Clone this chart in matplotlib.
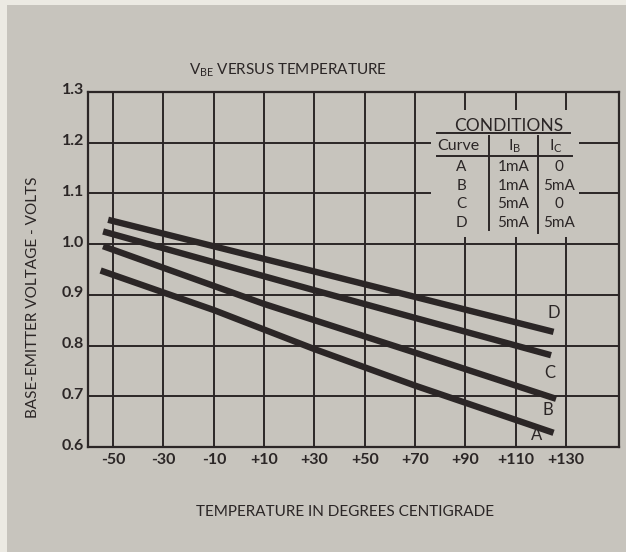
#!/usr/bin/env python3
# -*- coding: utf-8 -*-
"""
V_BE x temperatura para quatro condicoes de polarizacao (curvas A-D),
com a tabela de condicoes desenhada dentro da grade.
"""
import matplotlib
matplotlib.use("Agg")
import matplotlib.pyplot as plt
from matplotlib.patches import Rectangle
from matplotlib.transforms import ScaledTranslation

# --- dados (graus C, volts) -------------------------------------------------
temp_a = [-55, -10, 30, 70, 125]
vbe_a  = [0.948, 0.870, 0.793, 0.721, 0.628]

temp_b = [-54, 10, 70, 126]
vbe_b  = [0.996, 0.882, 0.786, 0.695]

temp_c = [-54, 30, 124]
vbe_c  = [1.025, 0.909, 0.781]

temp_d = [-52, 30, 125]
vbe_d  = [1.048, 0.946, 0.827]

curve_names = ["A", "B", "C", "D"]
ib_values   = ["1mA", "1mA", "5mA", "5mA"]
ic_values   = ["0", "5mA", "0", "5mA"]

x_ticks = [-50, -30, -10, 10, 30, 50, 70, 90, 110, 130]
x_tick_labels = ["-50", "-30", "-10", "+10", "+30", "+50", "+70", "+90", "+110", "+130"]
y_ticks = [0.6, 0.7, 0.8, 0.9, 1.0, 1.1, 1.2, 1.3]

# --- estilo -----------------------------------------------------------------
PAPER = "#c7c4bd"
EDGE  = "#eceae3"
INK   = "#2b2626"
FONT  = "Lato"

plt.rcParams["font.family"] = [FONT, "DejaVu Sans"]
plt.rcParams["mathtext.fontset"] = "custom"
plt.rcParams["mathtext.rm"] = FONT
plt.rcParams["mathtext.it"] = FONT
plt.rcParams["text.color"] = INK

W, H = 626, 552
fig = plt.figure(figsize=(W / 100, H / 100), dpi=100)
fig.patch.set_facecolor(PAPER)
# borda clara do papel (topo e esquerda)
fig.add_artist(Rectangle((0, 1 - 5 / H), 1, 5 / H, transform=fig.transFigure,
                         color=EDGE, lw=0))
fig.add_artist(Rectangle((0, 0), 7 / W, 1, transform=fig.transFigure,
                         color=EDGE, lw=0))

ax = fig.add_axes([88 / W, 1 - 447 / H, (619 - 88) / W, (447 - 92) / H])
ax.set_facecolor(PAPER)
ax.set_xlim(-60, 151)
ax.set_ylim(0.6, 1.3)

ax.set_xticks(x_ticks)
ax.set_xticklabels(x_tick_labels, fontweight="bold")
ax.set_yticks(y_ticks)
ax.set_yticklabels([f"{v:.1f}" for v in y_ticks], fontweight="bold")
ax.tick_params(length=0, labelsize=11.5, colors=INK)
ax.tick_params(axis="x", pad=4)
ax.tick_params(axis="y", pad=3)
# rotulos do eixo y ficam um pouco acima da linha
for lab in ax.get_yticklabels():
    lab.set_transform(lab.get_transform() + ScaledTranslation(0, 3 / 100, fig.dpi_scale_trans))

for s in ax.spines.values():
    s.set_linewidth(1.6)
    s.set_color(INK)

ax.set_axisbelow(True)
ax.grid(True, color=INK, lw=1.4)

# area da tabela: a grade fica interrompida ali
ax.add_patch(Rectangle((76.4, 1.0145), 135.3 - 76.4, 1.2645 - 1.0145,
                       facecolor=PAPER, edgecolor="none", zorder=1))

for t, v in [(temp_a, vbe_a), (temp_b, vbe_b), (temp_c, vbe_c), (temp_d, vbe_d)]:
    ax.plot(t, v, color=INK, lw=4.6, solid_capstyle="butt", zorder=3)

# letras das curvas
label_pos = {"D": (125, 0.864), "C": (123.4, 0.746), "B": (122.6, 0.673), "A": (118.2, 0.624)}
for name, (tx, vy) in label_pos.items():
    ax.text(tx, vy, name, ha="center", va="center", fontsize=12, zorder=4)

# tabela de condicoes
ax.text(107.1, 1.232, "CONDITIONS", ha="center", va="center", fontsize=12.5, zorder=4)
ax.plot([78.8, 131.7], [1.219, 1.219], color=INK, lw=1.4, zorder=4)
ax.plot([78.8, 132.5], [1.174, 1.174], color=INK, lw=1.4, zorder=4)
ax.plot([99.5, 99.5], [1.213, 1.028], color=INK, lw=1.4, zorder=4)
ax.plot([119.0, 119.0], [1.213, 1.022], color=INK, lw=1.4, zorder=4)

ax.text(87.2, 1.193, "Curve", ha="center", va="center", fontsize=11.5, zorder=4)
ax.text(109.4, 1.193, r"I$_\mathrm{B}$", ha="center", va="center", fontsize=11.5, zorder=4)
ax.text(126.1, 1.193, r"I$_\mathrm{C}$", ha="center", va="center", fontsize=11.5, zorder=4)

row_y = [1.152, 1.115, 1.079, 1.042]
for y, name, ib, ic in zip(row_y, curve_names, ib_values, ic_values):
    ax.text(88.4, y, name, ha="center", va="center", fontsize=11, zorder=4)
    ax.text(109.0, y, ib, ha="center", va="center", fontsize=11, zorder=4)
    ax.text(127.0, y, ic, ha="center", va="center", fontsize=11, zorder=4)

# titulos
fig.text(288 / W, 1 - 70 / H, r"V$_\mathrm{BE}$ VERSUS TEMPERATURE",
         ha="center", va="center", fontsize=11)
fig.text(345 / W, 1 - 512 / H, "TEMPERATURE IN DEGREES CENTIGRADE",
         ha="center", va="center", fontsize=11)
fig.text(33 / W, 1 - 297 / H, "BASE-EMITTER VOLTAGE - VOLTS",
         ha="center", va="center", rotation=90, fontsize=11)

fig.savefig("out.png", dpi=100, facecolor=fig.get_facecolor())
